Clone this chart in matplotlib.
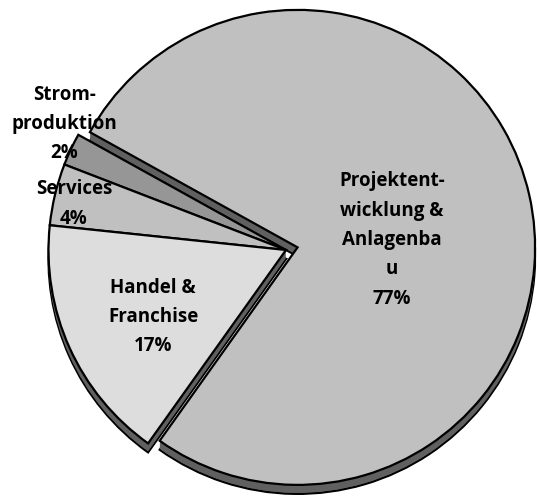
import matplotlib
matplotlib.use("Agg")
import matplotlib.pyplot as plt

# ---- data ----
categories = ["Projektentwicklung & Anlagenbau", "Stromproduktion", "Services", "Handel & Franchise"]
values = [76.8, 2.2, 4.2, 16.8]
label_lines = [["Projektent-", "wicklung &", "Anlagenba", "u"],
               ["Strom-", "produktion"],
               ["Services"],
               ["Handel &", "Franchise"]]

# ---- style / layout ----
W, H = 537, 496
colors = ["#c0c0c0", "#969696", "#c0c0c0", "#dddddd"]
side_color = "#606060"
radius = 237.5
explode_frac = [0.05, 0, 0, 0]
explode = [f * radius for f in explode_frac]  # pie explode is in data units
center = (286, H - 250)
depth = 9
startangle = 234.5
label_pos = [(392, 240), (64, 124), (74, 204), (153, 317)]  # image px

fig = plt.figure(figsize=(W / 100, H / 100), dpi=100)
ax = fig.add_axes([0, 0, 1, 1])

wp = dict(edgecolor="black", linewidth=1.6, joinstyle="miter")
# extruded side: bottom outline, then filled layers up to the top surface
ax.pie(values, explode=explode, colors=[side_color] * len(values),
       startangle=startangle, counterclock=True, radius=radius,
       center=(center[0], center[1] - depth), wedgeprops=wp)
for d in range(depth - 1, 0, -1):
    ax.pie(values, explode=explode, colors=[side_color] * len(values),
           startangle=startangle, counterclock=True, radius=radius,
           center=(center[0], center[1] - d),
           wedgeprops=dict(linewidth=0))
# top surface
ax.pie(values, explode=explode, colors=colors,
       startangle=startangle, counterclock=True, radius=radius,
       center=center, wedgeprops=wp)

total = sum(values)
for lines, v, (px, py) in zip(label_lines, values, label_pos):
    txt = "\n".join(lines + [f"{v / total * 100:.0f}%"])
    ax.text(px, H - py, txt, ha="center", va="center", multialignment="center",
            fontsize=13.5, fontweight="bold", family="Open Sans",
            linespacing=1.62, color="black")

ax.set_xlim(0, W)
ax.set_ylim(0, H)
ax.set_aspect("equal")
ax.axis("off")
fig.savefig("out.png", dpi=100)
